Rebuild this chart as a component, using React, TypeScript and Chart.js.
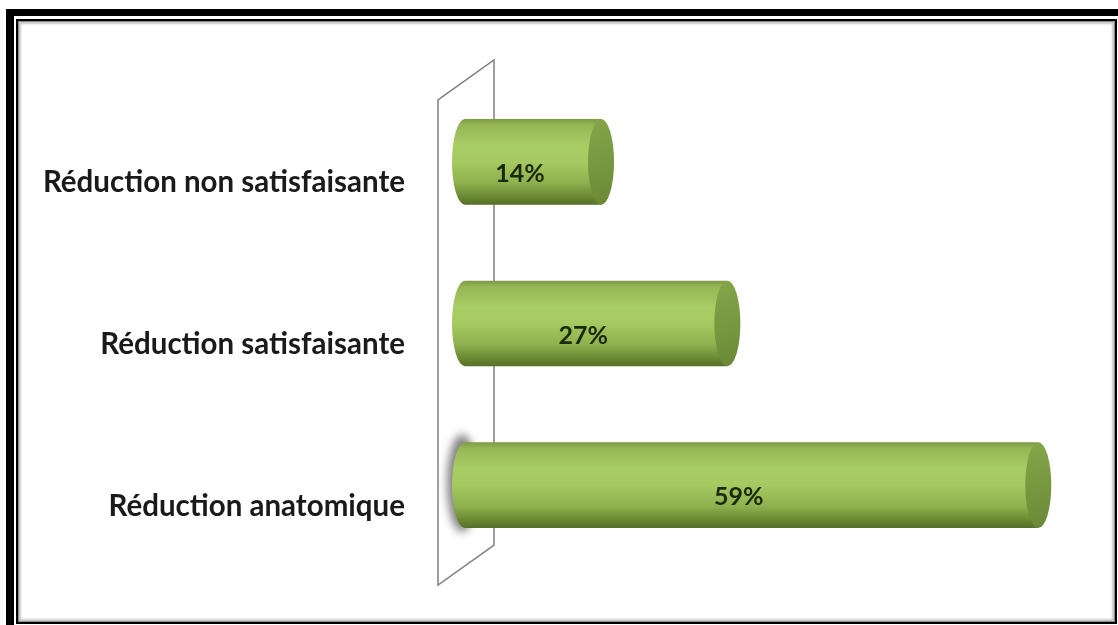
import React, { useEffect, useRef } from "react";
import { Chart, registerables } from "chart.js";

Chart.register(...registerables);

const categories = ["Réduction non satisfaisante", "Réduction satisfaisante", "Réduction anatomique"];
const values = [14, 27, 59];
const valueLabels = ["14%", "27%", "59%"];

const cylinderPlugin = {
  id: "cylinders",
  beforeDatasetsDraw(chart: any) {
    const ctx = chart.ctx;
    const area = chart.chartArea;
    const x0 = chart.scales.x.getPixelForValue(0);
    ctx.save();
    ctx.strokeStyle = "#7f7f7f";
    ctx.lineWidth = 1.5;
    ctx.beginPath();
    ctx.moveTo(x0 - 27, area.top + 19);
    ctx.lineTo(x0 - 27, area.bottom + 19);
    ctx.lineTo(x0 + 29, area.bottom - 21);
    ctx.lineTo(x0 + 29, area.top - 21);
    ctx.closePath();
    ctx.stroke();
    ctx.restore();
  },
  afterDatasetsDraw(chart: any) {
    const ctx = chart.ctx;
    const meta = chart.getDatasetMeta(0);
    const rx = 13;
    meta.data.forEach((bar: any, i: number) => {
      const { x, y, base, height } = bar.getProps(["x", "y", "base", "height"], true);
      const top = y - height / 2;
      const bottom = y + height / 2;
      const ry = height / 2;
      ctx.save();
      if (i === meta.data.length - 1) {
        ctx.save();
        ctx.filter = "blur(4px)";
        ctx.fillStyle = "rgba(90,90,90,0.75)";
        ctx.beginPath();
        ctx.ellipse(base - 3, y - 2, rx + 2, ry + 6, 0, 0, Math.PI * 2);
        ctx.fill();
        ctx.restore();
      }
      const g = ctx.createLinearGradient(0, top, 0, bottom);
      g.addColorStop(0, "#7d9a44");
      g.addColorStop(0.07, "#95b655");
      g.addColorStop(0.3, "#a9cd65");
      g.addColorStop(0.5, "#a6c961");
      g.addColorStop(0.75, "#8eb04e");
      g.addColorStop(0.92, "#67842f");
      g.addColorStop(1, "#566f29");
      ctx.fillStyle = g;
      ctx.beginPath();
      ctx.moveTo(x, top);
      ctx.lineTo(base, top);
      ctx.ellipse(base, y, rx, ry, 0, -Math.PI / 2, Math.PI / 2, true);
      ctx.lineTo(x, bottom);
      ctx.closePath();
      ctx.fill();
      const cg = ctx.createLinearGradient(x - rx, top, x + rx, bottom);
      cg.addColorStop(0, "#86a64b");
      cg.addColorStop(0.5, "#789840");
      cg.addColorStop(1, "#6a8836");
      ctx.fillStyle = cg;
      ctx.beginPath();
      ctx.ellipse(x, y, rx, ry, 0, 0, Math.PI * 2);
      ctx.fill();
      ctx.fillStyle = "#1c2a0c";
      ctx.font = "bold 25px Lato";
      ctx.textAlign = "center";
      ctx.textBaseline = "middle";
      ctx.fillText(valueLabels[i], (base + x) / 2 - 13, y + 12);
      ctx.restore();
    });
  },
};

export default function App() {
  const ref = useRef<HTMLCanvasElement | null>(null);
  useEffect(() => {
    if (!ref.current) return;
    const chart = new Chart(ref.current, {
      type: "bar",
      data: {
        labels: categories,
        datasets: [
          {
            data: values,
            backgroundColor: "rgba(0,0,0,0)",
            borderWidth: 0,
            categoryPercentage: 1,
            barPercentage: 0.53,
          },
        ],
      },
      options: {
        indexAxis: "y",
        animation: false,
        responsive: false,
        maintainAspectRatio: false,
        layout: { padding: { top: 81, bottom: 59, right: 70, left: 0 } },
        plugins: { legend: { display: false }, tooltip: { enabled: false } },
        scales: {
          x: { min: 0, max: 60, display: false },
          y: {
            grid: { display: false, drawTicks: false },
            border: { display: false },
            afterFit: (s: any) => {
              s.width = 465;
              s.paddingTop = 0;
              s.paddingBottom = 0;
            },
            ticks: {
              padding: 60,
              labelOffset: 21,
              color: "#1a1a1a",
              font: { family: "Lato", weight: "bold", size: 29.5 },
            },
          },
        },
      },
      plugins: [cylinderPlugin],
    });
    return () => chart.destroy();
  }, []);
  return (
    <div style={{ position: "fixed", left: 0, top: 0, width: 1118, height: 625, background: "#fff", overflow: "hidden" }}>
      <div style={{ position: "absolute", left: 6, top: 9, width: 1112, height: 616, background: "#000" }} />
      <div style={{ position: "absolute", left: 14, top: 16, width: 1104, height: 609, background: "#fff" }} />
      <div style={{ position: "absolute", left: 16, top: 19, width: 1101, height: 605, border: "2px solid #000", boxSizing: "border-box" }} />
      <div
        style={{
          position: "absolute",
          left: 18,
          top: 21,
          width: 1097,
          height: 601,
          boxSizing: "border-box",
          boxShadow: "inset 0 0 0 1px #8a8a8a, inset 0 0 2px 3px #c8c8c8",
        }}
      />
      <canvas ref={ref} width={1118} height={625} style={{ position: "absolute", left: 0, top: 0 }} />
    </div>
  );
}
